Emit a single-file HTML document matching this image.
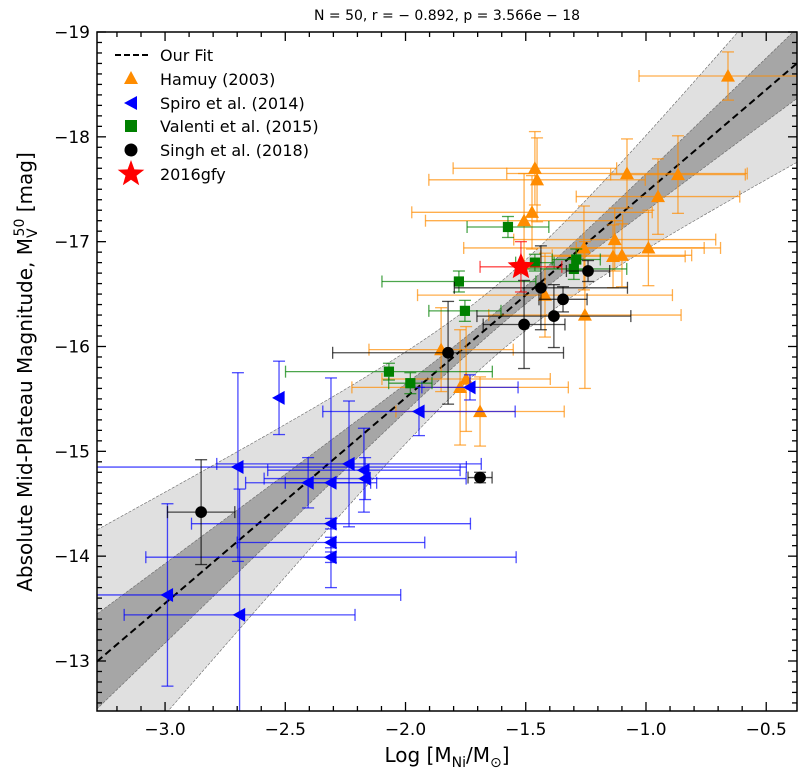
<!DOCTYPE html>
<html><head><meta charset="utf-8">
<style>
html,body{margin:0;padding:0;background:#fff;}
svg{display:block;font-family:"DejaVu Sans","Liberation Sans",sans-serif;}
</style></head>
<body>
<svg id="chart" width="806" height="778" viewBox="0 0 806 778"></svg>
<script>
// ---- data ----
const hamuyX = [-0.659,-1.462,-1.453,-1.079,-0.867,-0.95,-1.474,-1.507,-1.13,-1.258,-0.99,-1.137,-1.1,-1.42,-1.254,-1.852,-1.748,-1.773,-1.69];
const hamuyY = [-18.58,-17.70,-17.59,-17.65,-17.64,-17.43,-17.28,-17.20,-17.02,-16.94,-16.94,-16.86,-16.87,-16.49,-16.30,-15.97,-15.69,-15.61,-15.38];
const hamuyXerr = [0.37,0.34,0.45,0.5,0.28,0.34,0.5,0.41,0.42,0.5,0.3,0.3,0.29,0.53,0.4,0.3,0.35,0.45,0.35];
const hamuyYerr = [0.23,0.35,0.4,0.33,0.37,0.36,0.35,0.45,0.3,0.4,0.36,0.3,0.3,0.4,0.7,0.4,0.5,0.55,0.33];

const spiroX = [-2.526,-1.732,-1.944,-2.697,-2.235,-2.173,-2.168,-2.405,-2.31,-2.31,-2.31,-2.31,-2.99,-2.69];
const spiroY = [-15.51,-15.61,-15.38,-14.85,-14.88,-14.82,-14.74,-14.70,-14.70,-14.31,-14.13,-13.99,-13.63,-13.44];
const spiroXerr = [0,0.2,0.4,0.95,0.55,0.4,0.42,0.26,0.19,0.58,0.39,0.77,0.97,0.48];
const spiroYerr = [0.35,0.12,0.23,0.9,0.6,0.4,0.2,0.24,1.0,0.05,0.05,0.05,0.87,1.2];

const valentiX = [-1.574,-1.462,-1.29,-1.3,-1.778,-1.753,-2.069,-1.98];
const valentiY = [-17.14,-16.80,-16.83,-16.74,-16.62,-16.34,-15.76,-15.65];
const valentiXerr = [0.17,0.08,0.1,0.22,0.32,0.15,0.43,0.09];
const valentiYerr = [0.1,0.08,0.1,0.1,0.1,0.1,0.08,0.1];

const singhX = [-1.241,-1.437,-1.345,-1.383,-1.507,-1.823,-1.69,-2.85];
const singhY = [-16.72,-16.56,-16.45,-16.29,-16.21,-15.94,-14.75,-14.42];
const singhXerr = [0.09,0.36,0.1,0.32,0.17,0.48,0.05,0.14];
const singhYerr = [0.1,0.4,0.12,0.3,0.42,0.49,0.05,0.5];

const sn16X = [-1.52];
const sn16Y = [-16.76];
const sn16Xerr = [0.17];
const sn16Yerr = [0.24];

const fitIntercept = -19.43;
const fitSlope = -1.96;

const xTicks = [-3.0,-2.5,-2.0,-1.5,-1.0,-0.5];
const xTickLabels = ["−3.0","−2.5","−2.0","−1.5","−1.0","−0.5"];
const yTicks = [-19,-18,-17,-16,-15,-14,-13];
const yTickLabels = ["−19","−18","−17","−16","−15","−14","−13"];

// ---- layout ----
const L=97,R=797,T=32,B=711;
const X0=-3.283,X1=-0.372,Y0=-19,Y1=-12.523;
const sx=v=>L+(v-X0)/(X1-X0)*(R-L);
const sy=v=>T+(v-Y0)/(Y1-Y0)*(B-T);
const NS="http://www.w3.org/2000/svg";
const svg=document.getElementById('chart');
function mk(tag,attrs,parent){const e=document.createElementNS(NS,tag);for(const k in attrs)e.setAttribute(k,attrs[k]);(parent||svg).appendChild(e);return e;}

const defs=mk('defs',{});
const cp=mk('clipPath',{id:'clip'},defs);
mk('rect',{x:L,y:T,width:R-L,height:B-T},cp);
const plot=mk('g',{'clip-path':'url(#clip)'});



function band(a,b,x0,fill,name){
  let up=[],dn=[];
  for(let i=0;i<=60;i++){const x=X0+(X1-X0)*i/60;const m=fitIntercept+fitSlope*x;const hw=Math.sqrt(a*a+b*b*(x-x0)*(x-x0));
    up.push(sx(x)+','+sy(m-hw));dn.push(sx(x)+','+sy(m+hw));}
  const p=mk('polygon',{points:up.concat(dn.reverse()).join(' '),fill:fill,stroke:'#666','stroke-width':0.6,'stroke-dasharray':'3,1.5'},plot);
  
  
}
band(0.33,0.72,-1.6,'#e0e0e0','confidence-band-outer');
band(0.08,0.265,-1.6,'#a6a6a6','confidence-band-inner');

const fl=mk('line',{x1:sx(X0),y1:sy(fitIntercept+fitSlope*X0),x2:sx(X1),y2:sy(fitIntercept+fitSlope*X1),stroke:'#000','stroke-width':2,'stroke-dasharray':'7,4'},plot);



function errbars(xs,ys,xe,ye,color,g){
  for(let i=0;i<xs.length;i++){
    const cx=sx(xs[i]),cy=sy(ys[i]);
    const st={stroke:color,'stroke-width':1.3,'stroke-opacity':0.7};
    if(xe[i]>0){const a=sx(xs[i]-xe[i]),b=sx(xs[i]+xe[i]);
      mk('line',Object.assign({x1:a,y1:cy,x2:b,y2:cy},st),g);
      mk('line',Object.assign({x1:a,y1:cy-6,x2:a,y2:cy+6},st),g);
      mk('line',Object.assign({x1:b,y1:cy-6,x2:b,y2:cy+6},st),g);}
    if(ye[i]>0){const a=sy(ys[i]-ye[i]),b=sy(ys[i]+ye[i]);
      mk('line',Object.assign({x1:cx,y1:a,x2:cx,y2:b},st),g);
      mk('line',Object.assign({x1:cx-6,y1:a,x2:cx+6,y2:a},st),g);
      mk('line',Object.assign({x1:cx-6,y1:b,x2:cx+6,y2:b},st),g);}
  }
}
function marker(shape,cx,cy,color,g,s){
  s=s||7;
  if(shape==='tri') return mk('polygon',{points:`${cx},${cy-s} ${cx-s},${cy+s*0.8} ${cx+s},${cy+s*0.8}`,fill:color},g);
  if(shape==='ltri') return mk('polygon',{points:`${cx-s},${cy} ${cx+s*0.8},${cy-s} ${cx+s*0.8},${cy+s}`,fill:color},g);
  if(shape==='sq') return mk('rect',{x:cx-s*0.85,y:cy-s*0.85,width:s*1.7,height:s*1.7,fill:color},g);
  if(shape==='circ') return mk('circle',{cx:cx,cy:cy,r:s*0.9,fill:color},g);
  if(shape==='star'){let pts=[];for(let k=0;k<10;k++){const r=k%2?s*0.45:s;const a=-Math.PI/2+k*Math.PI/5;pts.push((cx+r*Math.cos(a))+','+(cy+r*Math.sin(a)));}
    return mk('polygon',{points:pts.join(' '),fill:color},g);}
}
function series(name,xs,ys,xe,ye,color,shape,size){
  const g=mk('g',{},plot);
  
  
  errbars(xs,ys,xe,ye,color,g);
  for(let i=0;i<xs.length;i++){
    const m=marker(shape,sx(xs[i]),sy(ys[i]),color,g,size);
    
    
  }
}
series('hamuy-series',hamuyX,hamuyY,hamuyXerr,hamuyYerr,'#ff8c00','tri',7);
series('spiro-series',spiroX,spiroY,spiroXerr,spiroYerr,'#0000ff','ltri',7);
series('valenti-series',valentiX,valentiY,valentiXerr,valentiYerr,'#008000','sq',6);
series('singh-series',singhX,singhY,singhXerr,singhYerr,'#000000','circ',6.5);
series('sn2016gfy-series',sn16X,sn16Y,sn16Xerr,sn16Yerr,'#ff0000','star',14);

const fr=mk('rect',{x:L,y:T,width:R-L,height:B-T,fill:'none',stroke:'#000','stroke-width':1.5});



const tg=mk('g',{stroke:'#000','stroke-width':1.3});


for(let v=-3.2;v<=-0.4;v+=0.1){const x=sx(v);const major=Math.abs(v*2-Math.round(v*2))<1e-6;const len=major?9:5;
  mk('line',{x1:x,y1:B,x2:x,y2:B-len},tg);mk('line',{x1:x,y1:T,x2:x,y2:T+len},tg);}
for(let v=-19;v<=-12.5;v+=0.1){const y=sy(v);const major=Math.abs(v-Math.round(v))<1e-6;const len=major?9:5;
  mk('line',{x1:L,y1:y,x2:L+len,y2:y},tg);mk('line',{x1:R,y1:y,x2:R-len,y2:y},tg);}
xTicks.forEach((v,i)=>{const t=mk('text',{x:sx(v),y:B+24,'text-anchor':'middle','font-size':17});t.textContent=xTickLabels[i];
  });
yTicks.forEach((v,i)=>{const t=mk('text',{x:L-7,y:sy(v)+6,'text-anchor':'end','font-size':17});t.textContent=yTickLabels[i];
  });
</script>
<svg style="position:absolute;left:0;top:0" width="806" height="778">
  <text x="447" y="20" text-anchor="middle" font-size="14" font-family="DejaVu Sans, Liberation Sans, sans-serif">N = 50, r = − 0.892, p = 3.566e − 18</text>
  <text x="447" y="762" text-anchor="middle" font-size="20" font-family="DejaVu Sans, Liberation Sans, sans-serif">Log [M<tspan font-size="14" dy="5">Ni</tspan><tspan dy="-5">/M</tspan><tspan font-size="14" dy="5">⊙</tspan><tspan dy="-5">]</tspan></text>
  <text transform="translate(32,372) rotate(-90)" text-anchor="middle" font-size="20" font-family="DejaVu Sans, Liberation Sans, sans-serif">Absolute Mid-Plateau Magnitude, M<tspan font-size="14" dy="5">V</tspan><tspan font-size="14" dx="-8" dy="-13">50</tspan><tspan dy="8"> [mag]</tspan></text>
  <g font-family="DejaVu Sans, Liberation Sans, sans-serif" font-size="16">
    <g><line x1="115" y1="55" x2="148" y2="55" stroke="#000" stroke-width="2" stroke-dasharray="6,3"/><text x="160" y="61">Our Fit</text></g>
    <g><polygon points="131,71 124,84 138,84" fill="#ff8c00"/><text x="160" y="85">Hamuy (2003)</text></g>
    <g><polygon points="124,103 137,96 137,110" fill="#0000ff"/><text x="160" y="109">Spiro et al. (2014)</text></g>
    <g><rect x="125" y="120" width="12" height="12" fill="#008000"/><text x="160" y="132">Valenti et al. (2015)</text></g>
    <g><circle cx="131" cy="150" r="6.5" fill="#000"/><text x="160" y="156">Singh et al. (2018)</text></g>
    <g><polygon points="131,160 134.4,169.4 144.3,169.7 136.5,175.8 139.2,185.3 131,179.8 122.8,185.3 125.5,175.8 117.7,169.7 127.6,169.4" fill="#ff0000"/><text x="160" y="180">2016gfy</text></g>
  </g>
</svg>
</body></html>
